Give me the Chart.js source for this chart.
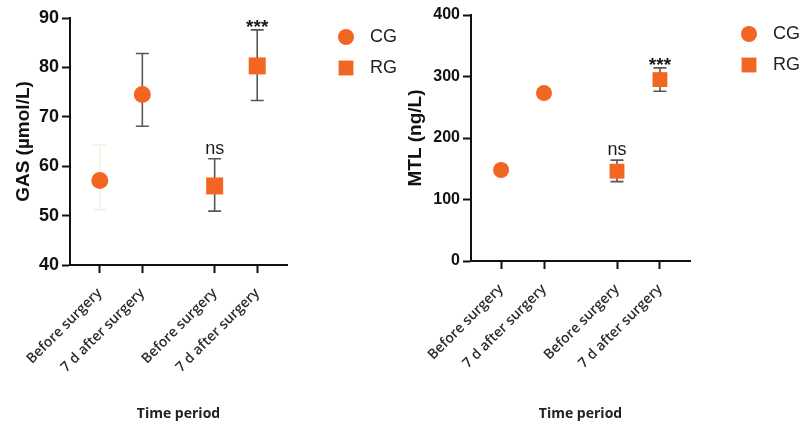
<!DOCTYPE html>
<html>
<head>
<meta charset="utf-8">
<script src="https://cdn.jsdelivr.net/npm/chart.js@4.4.1/dist/chart.umd.min.js"></script>
<style>
  html, body { margin: 0; padding: 0; background: #fff; }
  #wrap { position: relative; width: 803px; height: 423px; }
  .panel { position: absolute; top: 0; height: 423px; }
  #gasPanel { left: 0; width: 400px; }
  #mtlPanel { left: 400px; width: 403px; }
</style>
</head>
<body>
<div id="wrap">
  <div class="panel" id="gasPanel"><canvas id="gasChart"></canvas></div>
  <div class="panel" id="mtlPanel"><canvas id="mtlChart"></canvas></div>
</div>
<script>
// time points (gap between CG and RG groups on the x axis)
const cgX = [1, 2];
const rgX = [3.7, 4.7];
const timeX = [1, 2, 3.7, 4.7];
const timeLabels = ['Before surgery', '7 d after surgery', 'Before surgery', '7 d after surgery'];
const groupNames = ['CG', 'RG'];

// GAS (µmol/L)
const gasTicks = [40, 50, 60, 70, 80, 90];
const gasCgMean = [57.1, 74.5];
const gasCgLow = [51.2, 68.1];
const gasCgHigh = [64.3, 82.8];
const gasRgMean = [56.0, 80.3];
const gasRgLow = [50.9, 73.3];
const gasRgHigh = [61.5, 87.6];
const gasRgSig = ['ns', '***'];

// MTL (ng/L)
const mtlTicks = [0, 100, 200, 300, 400];
const mtlCgMean = [148, 273];
const mtlCgLow = [143, 267];
const mtlCgHigh = [153, 279];
const mtlRgMean = [146, 295];
const mtlRgLow = [129, 276];
const mtlRgHigh = [164, 314];
const mtlRgSig = ['ns', '***'];

const ORANGE = '#f26522';
const BAR = '#5e554d';

// error bars drawn under the markers
const errorBarPlugin = {
   id: 'errorBars',
   beforeDatasetsDraw(chart) {
      const ctx = chart.ctx;
      const yScale = chart.scales.y;
      chart.data.datasets.forEach((ds, i) => {
         const meta = chart.getDatasetMeta(i);
         meta.data.forEach((pt, j) => {
            const top = yScale.getPixelForValue(ds.errHigh[j]);
            const bot = yScale.getPixelForValue(ds.errLow[j]);
            ctx.save();
            ctx.strokeStyle = ds.errColor[j];
            ctx.lineWidth = 1.6;
            ctx.beginPath();
            ctx.moveTo(pt.x, top); ctx.lineTo(pt.x, bot);
            ctx.moveTo(pt.x - 6.5, top); ctx.lineTo(pt.x + 6.5, top);
            ctx.moveTo(pt.x - 6.5, bot); ctx.lineTo(pt.x + 6.5, bot);
            ctx.stroke();
            ctx.restore();
         });
      });
   }
};

// significance marks above the RG error bars
const sigPlugin = {
   id: 'sigMarks',
   afterDatasetsDraw(chart) {
      const ctx = chart.ctx;
      const yScale = chart.scales.y;
      chart.data.datasets.forEach((ds, i) => {
         if (!ds.sig) return;
         const meta = chart.getDatasetMeta(i);
         meta.data.forEach((pt, j) => {
            const top = yScale.getPixelForValue(ds.errHigh[j]);
            const txt = ds.sig[j];
            ctx.save();
            ctx.fillStyle = '#1a1a1a';
            ctx.textAlign = 'center';
            ctx.textBaseline = 'alphabetic';
            if (txt === 'ns') {
               ctx.font = '18px "Liberation Sans", Arial, sans-serif';
               ctx.fillText(txt, pt.x, top - 5);
            } else {
               ctx.font = 'bold 19px "Liberation Sans", Arial, sans-serif';
               ctx.fillText(txt, pt.x, top + 3);
            }
            ctx.restore();
         });
      });
   }
};

// legend to the right of the plot area
const sideLegendPlugin = {
   id: 'sideLegend',
   afterDraw(chart) {
      const ctx = chart.ctx;
      const area = chart.chartArea;
      chart.data.datasets.forEach((ds, i) => {
         const x = area.right + 59;
         const y = area.top + 19 + i * 31;
         ctx.save();
         ctx.fillStyle = ds.backgroundColor;
         Chart.helpers.drawPoint(ctx, {
            pointStyle: ds.pointStyle,
            radius: ds.pointStyle === 'rect' ? 10.5 : 8,
            borderWidth: 0
         }, x, y);
         ctx.fillStyle = '#222';
         ctx.font = '18px "Liberation Sans", Arial, sans-serif';
         ctx.textAlign = 'left';
         ctx.textBaseline = 'middle';
         ctx.fillText(ds.label, x + 24, y);
         ctx.restore();
      });
   }
};

function toPoints(xs, ys) {
   return xs.map((x, i) => ({ x: x, y: ys[i] }));
}

function makeChart(canvasId, cfg) {
   const axisFont = { family: '"Liberation Sans", Arial, sans-serif', weight: 'bold' };
   return new Chart(document.getElementById(canvasId), {
      type: 'scatter',
      data: {
         datasets: [
            {
               label: groupNames[0],
               data: toPoints(cgX, cfg.cgMean),
               errLow: cfg.cgLow, errHigh: cfg.cgHigh, errColor: cfg.cgErrColor,
               pointStyle: 'circle', pointRadius: cfg.circleR, backgroundColor: ORANGE, borderWidth: 0
            },
            {
               label: groupNames[1],
               data: toPoints(rgX, cfg.rgMean),
               errLow: cfg.rgLow, errHigh: cfg.rgHigh, errColor: [BAR, BAR], sig: cfg.rgSig,
               pointStyle: 'rect', pointRadius: cfg.rectR, backgroundColor: ORANGE, borderWidth: 0
            }
         ]
      },
      options: {
         responsive: true,
         maintainAspectRatio: false,
         animation: false,
         events: [],
         layout: { padding: { left: 0, top: cfg.top, right: 113, bottom: 0 } },
         plugins: { legend: { display: false }, tooltip: { enabled: false } },
         scales: {
            x: {
               type: 'linear', min: 0.3, max: 5.4,
               afterBuildTicks: s => { s.ticks = timeX.map(v => ({ value: v })); },
               afterFit: s => { s.height = cfg.xHeight; },
               border: { display: true, color: '#111', width: 2 },
               grid: { drawOnChartArea: false, drawTicks: true, tickLength: 8, tickWidth: 2, tickColor: '#111' },
               ticks: {
                  autoSkip: false, minRotation: 45, maxRotation: 45, padding: 12,
                  callback: (v, i) => timeLabels[i],
                  font: { family: '"Open Sans", sans-serif', size: 14, weight: '600' },
                  color: '#2b2b2b'
               },
               title: {
                  display: true, text: 'Time period', color: '#222',
                  font: { family: '"Open Sans", sans-serif', size: 14, weight: 'bold' },
                  padding: { top: 0, bottom: 1 }
               }
            },
            y: {
               type: 'linear', min: cfg.ticks[0], max: cfg.ticks[cfg.ticks.length - 1],
               afterBuildTicks: s => { s.ticks = cfg.ticks.map(v => ({ value: v })); },
               afterFit: s => { s.width = cfg.yWidth; },
               border: { display: true, color: '#111', width: 2 },
               grid: { drawOnChartArea: false, drawTicks: true, tickLength: 8, tickWidth: 2, tickColor: '#111' },
               ticks: { padding: 3, color: '#111', font: Object.assign({ size: cfg.tickSize }, axisFont) },
               title: {
                  display: true, text: cfg.yTitle, color: '#111',
                  font: Object.assign({ size: 19 }, axisFont),
                  padding: { top: cfg.titlePad, bottom: 0 }
               }
            }
         }
      },
      plugins: [errorBarPlugin, sigPlugin, sideLegendPlugin]
   });
}

makeChart('gasChart', {
   ticks: gasTicks, yTitle: 'GAS (µmol/L)',
   cgMean: gasCgMean, cgLow: gasCgLow, cgHigh: gasCgHigh, cgErrColor: ['#f6f0e3', BAR],
   rgMean: gasRgMean, rgLow: gasRgLow, rgHigh: gasRgHigh, rgSig: gasRgSig,
   top: 18, xHeight: 158, yWidth: 70, tickSize: 18, titlePad: 12,
   circleR: 8.5, rectR: 12
});

makeChart('mtlChart', {
   ticks: mtlTicks, yTitle: 'MTL (ng/L)',
   cgMean: mtlCgMean, cgLow: mtlCgLow, cgHigh: mtlCgHigh, cgErrColor: [BAR, BAR],
   rgMean: mtlRgMean, rgLow: mtlRgLow, rgHigh: mtlRgHigh, rgSig: mtlRgSig,
   top: 15, xHeight: 162, yWidth: 71, tickSize: 16, titlePad: 4,
   circleR: 8, rectR: 10.5
});
</script>
</body>
</html>
